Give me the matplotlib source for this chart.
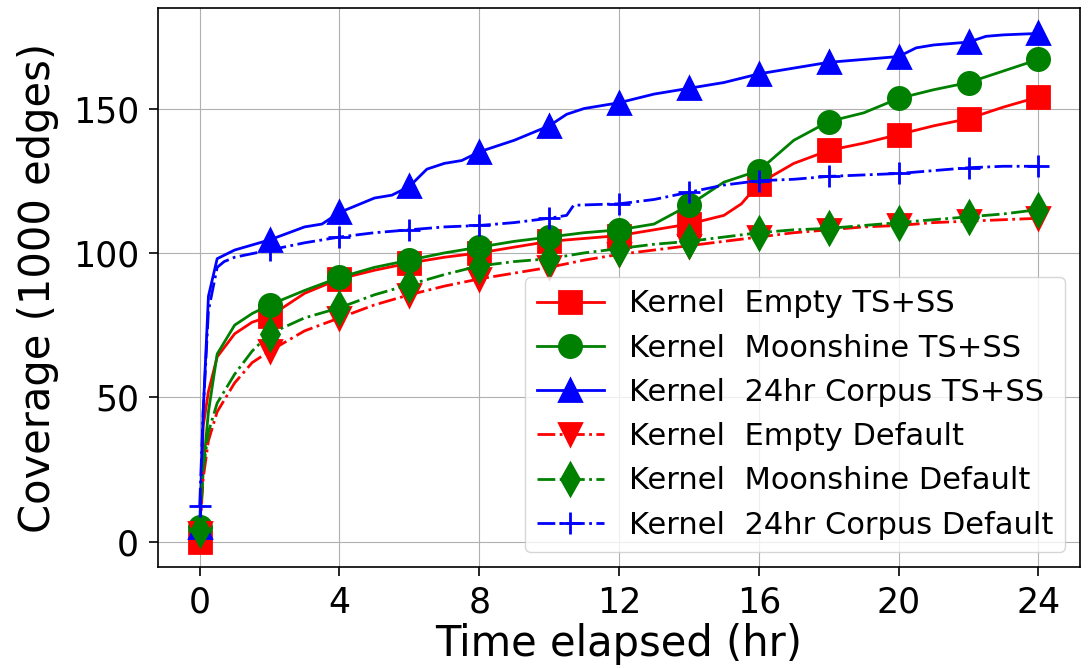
import matplotlib
matplotlib.use('Agg')
import matplotlib.pyplot as plt

# hours since start (finer sampling early on, where coverage climbs fast)
hours_fine = [0, 0.1, 0.25, 0.5, 1, 1.5, 2, 3, 4, 5, 6, 7, 8, 9, 10, 11, 12,
              13, 14, 15, 16, 17, 18, 19, 20, 21, 22, 23, 24]

# coverage in 1000s of edges
empty_ts_x = [0, 0.1, 0.25, 0.5, 1, 1.5, 2, 3, 4, 5, 6, 7, 8, 9, 10, 11, 12,
              13, 14, 15, 15.5, 16, 17, 18, 19, 20, 21, 22, 23, 24]
empty_ts = [0, 40, 52, 64, 72, 76, 78, 86, 91, 94, 96.5, 98.5, 100, 102, 104,
            105, 106, 108, 110, 113, 117, 124, 131, 135.5, 138, 141, 144,
            146.5, 150.5, 154]

moon_ts = [5, 25, 45, 65, 75, 79, 82, 87, 91.5, 95, 97.5, 100, 102, 104,
           105.5, 107, 108, 110, 116.5, 124.5, 128.5, 139, 145.5, 148.5,
           153.5, 156.5, 159, 163, 167]

corpus_ts_x = [0, 0.1, 0.25, 0.5, 1, 2, 3, 3.5, 4, 5, 5.5, 6, 6.5, 7, 7.5, 8,
               9, 10, 10.5, 11, 12, 13, 14, 15, 16, 17, 18, 19, 20, 20.5, 21,
               22, 22.5, 23, 24]
corpus_ts = [5, 45, 85, 98, 101, 104.5, 109, 110, 114, 119, 120, 123, 129,
             131, 132, 135, 139, 144, 148, 150, 152, 155, 157, 159, 162, 164,
             166, 167, 168, 171, 172, 173, 175, 175.5, 176]

empty_def = [3, 22, 35, 45, 55, 62, 66, 73, 77.5, 82, 85.5, 88.5, 91, 93,
             95, 97.5, 99.5, 101, 102.5, 104, 105.5, 107, 108, 109, 109.5,
             110.5, 111, 111.5, 112]

moon_def = [4, 25, 38, 48, 58, 66, 72, 77.5, 81, 85.5, 89, 92.5, 95.5, 97,
            98, 100, 101.5, 103, 104, 105.5, 107, 108, 108.5, 109.5, 110.5,
            111.5, 112.5, 113.5, 115]

corpus_def_x = [0, 0.1, 0.25, 0.5, 0.7, 1, 2, 3, 4, 5, 6, 7, 8, 9, 10, 10.5,
                10.7, 12, 13, 14, 15, 16, 17, 18, 19, 20, 21, 22, 23, 24]
corpus_def = [12.5, 45, 80, 95, 97, 98.5, 101, 103.5, 105.5, 107, 108, 109,
              109.5, 110.5, 112, 113, 116.5, 117, 118.5, 121, 123.5, 125,
              125.5, 126.5, 127, 127.5, 128.5, 129.5, 130, 130]

series = [
    (empty_ts_x, empty_ts, 'r', 's', '-', 'Kernel  Empty TS+SS'),
    (hours_fine, moon_ts, 'g', 'o', '-', 'Kernel  Moonshine TS+SS'),
    (corpus_ts_x, corpus_ts, 'b', '^', '-', 'Kernel  24hr Corpus TS+SS'),
    (hours_fine, empty_def, 'r', 'v', '-.', 'Kernel  Empty Default'),
    (hours_fine, moon_def, 'g', 'd', '-.', 'Kernel  Moonshine Default'),
    (corpus_def_x, corpus_def, 'b', '+', '-.', 'Kernel  24hr Corpus Default'),
]

fig = plt.figure(figsize=(10.88, 6.68), dpi=100)
ax = fig.add_axes([0.145, 0.151, 0.848, 0.837])

for xs, ys, color, marker, ls, label in series:
    # markers only on the even hours
    marks = [i for i, t in enumerate(xs) if t % 2 == 0]
    ax.plot(xs, ys, color=color, linestyle=ls, linewidth=2, marker=marker,
            markersize=16, markeredgewidth=2, markevery=marks, label=label)

ax.set_xticks([0, 4, 8, 12, 16, 20, 24])
ax.set_yticks([0, 50, 100, 150])
ax.tick_params(labelsize=25, length=6.5, width=1.2, pad=7)
ax.set_xlabel('Time elapsed (hr)', fontsize=30, labelpad=2)
ax.set_ylabel('Coverage (1000 edges)', fontsize=30, labelpad=10)
for s in ax.spines.values():
    s.set_linewidth(1.2)
ax.grid(True)
ax.legend(loc='lower right', fontsize=22, handlelength=2.2)

fig.savefig('out.png', dpi=100)
